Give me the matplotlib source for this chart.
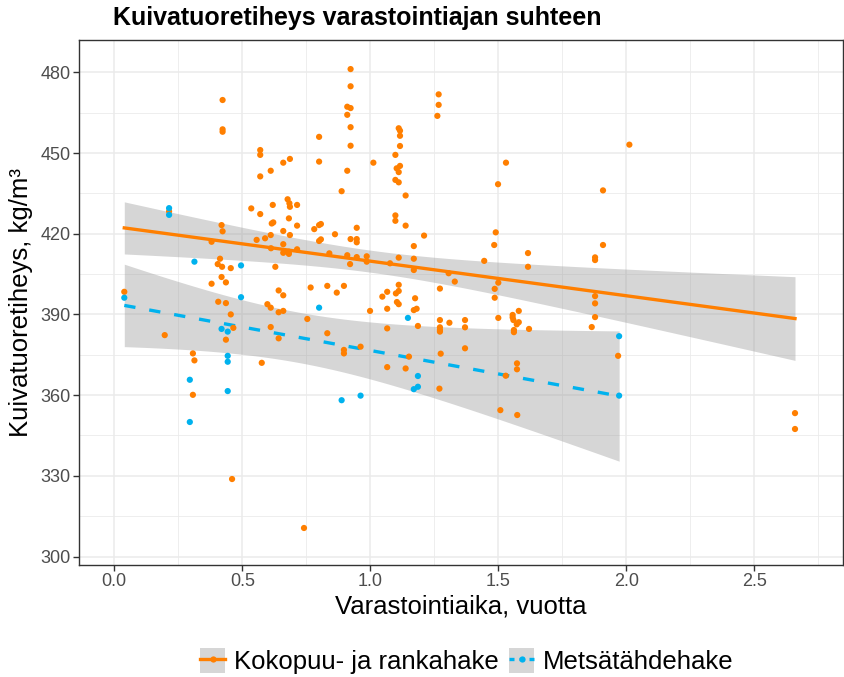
import math
import numpy as np
import matplotlib
matplotlib.use("Agg")
import matplotlib.pyplot as plt
from matplotlib import font_manager
from matplotlib.patches import Patch
from matplotlib.lines import Line2D
from matplotlib.legend_handler import HandlerTuple

# ---------------- data ----------------
title = "Kuivatuoretiheys varastointiajan suhteen"
xlabel = "Varastointiaika, vuotta"
ylabel = "Kuivatuoretiheys, kg/m³"
series_names = ["Kokopuu- ja rankahake", "Metsätähdehake"]
xticks = [0.0, 0.5, 1.0, 1.5, 2.0, 2.5]
xtick_labels = ["0.0", "0.5", "1.0", "1.5", "2.0", "2.5"]
yticks = [300, 330, 360, 390, 420, 450, 480]

koko_x = [0.423, 0.423, 0.423, 0.80, 0.570, 0.570, 0.686, 0.660, 0.80, 0.611,
          0.570, 0.535, 0.570, 0.619, 0.677, 0.684, 0.686, 0.714, 0.682, 0.214,
          0.923, 0.923, 0.910, 0.923, 0.910, 0.923, 0.923, 0.910, 0.888, 1.012,
          1.111, 1.116, 1.116, 1.116, 1.098, 1.116, 1.103, 1.111, 1.098, 1.111,
          1.138, 1.098, 1.267, 1.267, 1.262, 1.530, 1.499, 2.012, 1.909,
          0.039, 0.197, 0.307, 0.313, 0.419, 0.423, 0.380, 0.413, 0.404, 0.421,
          0.455, 0.419, 0.436, 0.380, 0.406, 0.436, 0.455, 0.465, 0.436, 0.576,
          0.615, 0.621, 0.714, 0.611, 0.589, 0.556, 0.660, 0.686, 0.781, 0.80,
          0.807, 0.80, 0.807, 0.660, 0.660, 0.682, 0.682, 0.714, 0.612, 0.629,
          0.642, 0.660, 0.598, 0.611, 0.642, 0.660, 0.611, 0.642, 0.754, 0.767,
          0.832, 0.832,
          0.862, 0.947, 0.923, 0.947, 0.947, 0.840, 0.910, 0.947, 0.986, 0.986,
          0.921, 1.098, 1.138, 1.210, 1.170, 1.170, 1.170, 1.111, 1.077,
          0.869, 0.897, 0.999, 1.047, 1.066, 1.100, 1.111, 1.111, 1.175, 1.104,
          1.111, 1.170, 1.181, 1.066, 1.186, 1.066,
          0.897, 0.897, 0.962, 1.151, 1.066, 1.138,
          1.272, 1.272, 1.272, 1.272, 1.272, 1.309, 1.370, 1.370, 1.370, 1.275,
          1.270, 1.306, 1.330,
          1.490, 1.484, 1.445, 1.486, 1.486, 1.500, 1.500, 1.616, 1.616,
          1.556, 1.556, 1.559, 1.580, 1.580, 1.572, 1.561, 1.561, 1.620, 1.573,
          1.573, 1.529, 1.508, 1.574,
          1.909, 1.878, 1.878, 1.878, 1.878, 1.878, 1.865, 1.968,
          2.659, 2.659, 0.307, 0.460, 0.741]
koko_y = [469.7, 458.8, 457.9, 456.0, 451.1, 449.3, 447.8, 446.4, 446.8, 443.4,
          441.3, 429.4, 427.3, 430.7, 432.8, 431.3, 430.0, 430.7, 425.7, 428.3,
          481.2, 474.8, 467.2, 466.7, 464.2, 459.6, 452.7, 443.4, 435.8, 446.4,
          459.2, 458.3, 456.4, 452.6, 449.3, 445.2, 444.3, 442.9, 440.0, 439.1,
          434.2, 426.8, 471.8, 467.9, 463.8, 446.4, 438.4, 453.1, 436.1,
          398.4, 382.3, 375.5, 372.9, 423.2, 420.9, 417.0, 410.7, 408.7, 407.7,
          407.2, 403.9, 401.9, 401.4, 394.7, 394.2, 390.0, 385.0, 380.6, 372.0,
          423.8, 424.2, 423.0, 419.5, 418.3, 417.7, 421.0, 419.5, 421.7, 423.2,
          423.6, 417.3, 417.9, 416.1, 412.9, 413.3, 412.5, 414.2, 414.6, 407.7,
          398.9, 397.1, 393.8, 392.5, 390.8, 391.3, 385.3, 381.1, 388.3, 400.0,
          400.6, 383.0,
          419.8, 422.2, 418.0, 418.0, 416.8, 412.7, 412.0, 411.3, 411.6, 409.6,
          408.7, 424.8, 423.0, 419.3, 415.4, 410.7, 406.5, 411.1, 409.0,
          398.1, 400.6, 391.3, 396.6, 398.4, 397.8, 398.7, 401.0, 396.0, 394.6,
          393.8, 391.6, 392.1, 392.1, 385.7, 384.8,
          376.8, 375.5, 378.0, 374.3, 370.4, 369.9,
          399.6, 387.9, 385.2, 384.2, 383.6, 386.9, 387.9, 385.2, 377.4, 375.4,
          362.4, 405.3, 402.2,
          420.5, 415.8, 409.9, 399.5, 396.2, 401.8, 388.7, 412.8, 407.7,
          389.8, 388.9, 387.9, 391.3, 387.1, 386.3, 384.2, 383.4, 384.6, 371.8,
          369.6, 367.2, 354.4, 352.6,
          415.8, 411.2, 410.2, 396.8, 394.1, 389.0, 385.3, 374.6,
          353.3, 347.4, 360.1, 328.8, 310.6]

metsa_x = [0.039, 0.214, 0.214, 0.313, 0.295, 0.295, 0.419, 0.443, 0.443, 0.443,
           0.443, 0.495, 0.495, 0.80, 0.888, 0.962, 1.147, 1.170, 1.186, 1.186,
           1.972, 1.972]
metsa_y = [396.2, 429.5, 427.0, 409.6, 365.7, 350.0, 384.6, 383.6, 374.6, 372.4,
           361.5, 408.2, 396.4, 392.5, 358.1, 359.8, 388.7, 362.2, 363.1, 367.1,
           381.9, 359.8]

# ---------------- styling ----------------
ORANGE = "#FF7F00"
BLUE = "#00B2EE"
BAND = "#999999"


def pick_font(names):
    for n in names:
        try:
            font_manager.findfont(font_manager.FontProperties(family=n), fallback_to_default=False)
            return n
        except Exception:
            continue
    return "DejaVu Sans"


BASE = pick_font(["Liberation Sans", "Arial", "DejaVu Sans"])
plt.rcParams["font.family"] = [BASE, "DejaVu Sans"]


def t_quantile(df, p=0.975):
    c = math.gamma((df + 1) / 2) / (math.sqrt(df * math.pi) * math.gamma(df / 2))
    t = np.linspace(0, 8, 80001)
    pdf = c * (1 + t ** 2 / df) ** (-(df + 1) / 2)
    cdf = 0.5 + np.concatenate([[0], np.cumsum((pdf[1:] + pdf[:-1]) / 2 * np.diff(t))])
    return float(np.interp(p, cdf, t))


def lm_smooth(x, y, n=80):
    x = np.asarray(x, float)
    y = np.asarray(y, float)
    b1, b0 = np.polyfit(x, y, 1)
    xs = np.linspace(x.min(), x.max(), n)
    fit = b0 + b1 * xs
    resid = y - (b0 + b1 * x)
    dof = len(x) - 2
    s = math.sqrt(np.sum(resid ** 2) / dof)
    sxx = np.sum((x - x.mean()) ** 2)
    se = s * np.sqrt(1 / len(x) + (xs - x.mean()) ** 2 / sxx)
    tq = t_quantile(dof)
    return xs, fit, fit - tq * se, fit + tq * se


W, H = 844, 677
fig = plt.figure(figsize=(W / 100, H / 100), dpi=100)
ax = fig.add_axes([79 / W, 1 - 565 / H, (843 - 79) / W, (565 - 40) / H])

# x: 0 at px 114.3, 256 px/unit ; y: 480 at py 72.3, 2.69 px/unit
ax.set_xlim((79 - 114.3) / 256, (843 - 114.3) / 256)
ax.set_ylim(300 - (565 - 556.5) / 2.69, 480 + (72.3 - 40) / 2.69)

ax.set_facecolor("white")
ax.set_xticks(xticks)
ax.set_xticklabels(xtick_labels)
ax.set_yticks(yticks)
ax.set_xticks(np.arange(0.25, 2.9, 0.5), minor=True)
ax.set_yticks(np.arange(315, 480, 30), minor=True)
ax.grid(which="major", color="#EBEBEB", linewidth=1.1)
ax.grid(which="minor", color="#EBEBEB", linewidth=0.6)
ax.set_axisbelow(True)
for sp in ax.spines.values():
    sp.set_color("#333333")
    sp.set_linewidth(1.0)
ax.tick_params(which="major", length=4, width=1, color="#333333",
               labelcolor="#4D4D4D", labelsize=13, pad=2)
ax.tick_params(which="minor", length=0)

# smooths (drawn first, points on top)
xs, f, lo, hi = lm_smooth(koko_x, koko_y)
ax.fill_between(xs, lo, hi, color=BAND, alpha=0.4, linewidth=0, zorder=2)
ax.plot(xs, f, color=ORANGE, lw=2.4, zorder=3)
xs2, f2, lo2, hi2 = lm_smooth(metsa_x, metsa_y)
ax.fill_between(xs2, lo2, hi2, color=BAND, alpha=0.4, linewidth=0, zorder=2)
ax.plot(xs2, f2, color=BLUE, lw=2.4, ls=(0, (3.4, 4.2)), zorder=3)

# points
ax.scatter(koko_x, koko_y, s=20, color=ORANGE, edgecolors="none", zorder=4)
ax.scatter(metsa_x, metsa_y, s=20, color=BLUE, edgecolors="none", zorder=4)

ax.set_xlabel(xlabel, fontsize=18.5, color="black", labelpad=3)
ax.set_ylabel(ylabel, fontsize=18.5, color="black", labelpad=5)

fig.text(113 / W, 1 - 18 / H, title, fontsize=18, fontweight="bold",
         ha="left", va="center")

# legend
h1 = (Patch(facecolor="#D6D6D6", edgecolor="none"),
      Line2D([], [], color=ORANGE, lw=2.4, marker="o", markersize=4.5, markeredgewidth=0))
h2 = (Patch(facecolor="#D6D6D6", edgecolor="none"),
      Line2D([], [], color=BLUE, lw=2.4, ls=(0, (1.5, 1.5)), marker="o", markersize=4.5,
             markeredgewidth=0))
fig.legend([h1, h2], series_names, handler_map={tuple: HandlerTuple(ndivide=1, pad=0)},
           loc="center", bbox_to_anchor=(467 / W, 1 - 661 / H), ncol=2, frameon=False,
           fontsize=18.5, handlelength=0.97, handleheight=1.1, handletextpad=0.35,
           columnspacing=0.4, borderpad=0.1)

fig.savefig("out.png", dpi=100)
